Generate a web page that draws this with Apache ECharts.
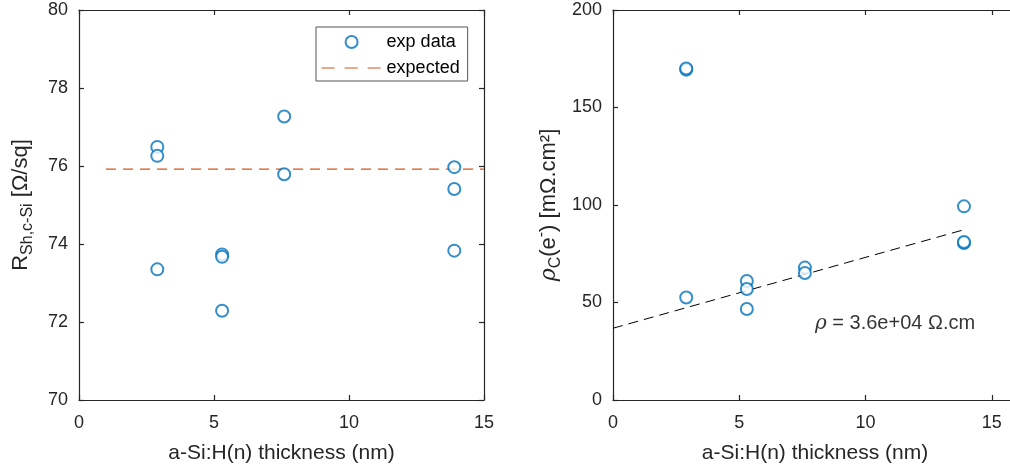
<!DOCTYPE html>
<html><head><meta charset="utf-8">
<script src="https://cdn.jsdelivr.net/npm/echarts@6/dist/echarts.min.js"></script>
<style>html,body{margin:0;padding:0;background:#fff}#c{width:1010px;height:470px}</style>
</head><body><div id="c"></div>
<script>
// ---- data ----
const thickness = [2.9, 2.9, 2.9, 5.3, 5.3, 5.3, 7.6, 7.6, 13.9, 13.9, 13.9];
const rSheet    = [76.49, 76.26, 73.35, 73.73, 73.67, 72.29, 77.27, 75.79, 75.97, 75.41, 73.83];
const rhoC      = [169.4, 170.0, 52.6, 61.0, 56.9, 46.7, 67.9, 65.1, 99.3, 80.5, 81.0];
const expectedX = [1, 15];
const expectedY = [75.92, 75.92];
const fitX = [0, 13.95];
const fitY = [36.8, 87.5];
const xTicksInterval = 5;
const leftYTicks = {min: 70, max: 80, interval: 2};
const rightYTicks = {min: 0, max: 200, interval: 50};
const annotationText = ' = 3.6e+04 Ω.cm';
const annotationAt = [[8.0, 39]];

const FONT = 'Liberation Sans, Arial, sans-serif';
const AX = '#262626';
const BLUE = '#0072BD';
const ORANGE = '#D95319';

function pairs(xs, ys) { return xs.map((x, i) => [x, ys[i]]); }

const axisCommon = (show, isX) => ({
  axisLine: {show: true, onZero: false, lineStyle: {color: AX, width: 1.2}},
  axisTick: {show: true, inside: true, length: 5, lineStyle: {color: AX, width: 1.2}},
  splitLine: {show: false},
  axisLabel: {show: show, color: AX, fontSize: 18, fontFamily: FONT, margin: isX ? 14 : 11,
    padding: isX ? 0 : [3, 0, 0, 0], showMaxLabel: true}
});

const chart = echarts.init(document.getElementById('c'), null, {renderer: 'canvas'});
const option = {
  animation: false,
  backgroundColor: '#fff',
  textStyle: {fontFamily: FONT},
  grid: [
    {left: 79, top: 10, width: 405, height: 390, outerBoundsMode: 'none', containLabel: false},
    {left: 613, top: 10, width: 404, height: 390, outerBoundsMode: 'none', containLabel: false}
  ],
  xAxis: [
    Object.assign(axisCommon(true, true), {type: 'value', gridIndex: 0, min: 0, max: 15, interval: xTicksInterval, position: 'bottom',
      name: 'a-Si:H(n) thickness (nm)', nameLocation: 'middle', nameGap: 43,
      nameTextStyle: {fontSize: 21, color: AX, fontFamily: FONT}}),
    Object.assign(axisCommon(false, true), {type: 'value', gridIndex: 0, min: 0, max: 15, interval: xTicksInterval, position: 'top'}),
    Object.assign(axisCommon(true, true), {type: 'value', gridIndex: 1, min: 0, max: 16, interval: xTicksInterval, position: 'bottom',
      name: 'a-Si:H(n) thickness (nm)', nameLocation: 'middle', nameGap: 43,
      nameTextStyle: {fontSize: 21, color: AX, fontFamily: FONT}}),
    Object.assign(axisCommon(false, true), {type: 'value', gridIndex: 1, min: 0, max: 16, interval: xTicksInterval, position: 'top'})
  ],
  yAxis: [
    Object.assign(axisCommon(true, false), {type: 'value', gridIndex: 0, min: leftYTicks.min, max: leftYTicks.max, interval: leftYTicks.interval, position: 'left',
      name: '{m|R}{s|Sh,c-Si}{m| [Ω/sq]}', nameLocation: 'middle', nameRotate: 90, nameGap: 43,
      nameTextStyle: {color: AX, fontFamily: FONT,
        rich: {m: {fontSize: 22, lineHeight: 30, color: AX, fontFamily: FONT},
               s: {fontSize: 16, lineHeight: 14, verticalAlign: 'bottom', color: AX, fontFamily: FONT}}}}),
    Object.assign(axisCommon(false, false), {type: 'value', gridIndex: 0, min: leftYTicks.min, max: leftYTicks.max, interval: leftYTicks.interval, position: 'right'}),
    Object.assign(axisCommon(true, false), {type: 'value', gridIndex: 1, min: rightYTicks.min, max: rightYTicks.max, interval: rightYTicks.interval, position: 'left',
      name: '{i|ρ}{s|C}{m|(e}{p|-}{m|) [mΩ.cm²]}', nameLocation: 'middle', nameRotate: 90, nameGap: 49,
      nameTextStyle: {color: AX, fontFamily: FONT,
        rich: {m: {fontSize: 22, lineHeight: 30, color: AX, fontFamily: FONT},
               i: {fontSize: 22, lineHeight: 30, fontStyle: 'italic', color: AX, fontFamily: 'DejaVu Serif, serif'},
               s: {fontSize: 16, lineHeight: 14, verticalAlign: 'bottom', color: AX, fontFamily: FONT},
               p: {fontSize: 16, lineHeight: 14, verticalAlign: 'top', color: AX, fontFamily: FONT}}}}),
    Object.assign(axisCommon(false, false), {type: 'value', gridIndex: 1, min: rightYTicks.min, max: rightYTicks.max, interval: rightYTicks.interval, position: 'right'})
  ],
  legend: {
    show: true, orient: 'vertical', left: 316, top: 27,
    data: [{name: 'exp data'},
           {name: 'expected', itemStyle: {color: 'rgba(0,0,0,0)', borderWidth: 0, opacity: 0},
            lineStyle: {color: ORANGE, width: 1.2, type: [13, 10]}}],
    itemWidth: 60, itemHeight: 12, itemGap: 8,
    padding: [6, 8, 4, 5],
    backgroundColor: '#fff', borderColor: '#555', borderWidth: 1, borderRadius: 0,
    textStyle: {fontSize: 18, color: '#000', fontFamily: FONT},
    selectedMode: false
  },
  series: [
    {name: 'exp data', type: 'scatter', xAxisIndex: 0, yAxisIndex: 0, data: pairs(thickness, rSheet),
      symbol: 'emptyCircle', symbolSize: 12, itemStyle: {color: BLUE, borderColor: BLUE, borderWidth: 1.4}, z: 3},
    {name: 'expected', type: 'line', xAxisIndex: 0, yAxisIndex: 0, data: pairs(expectedX, expectedY),
      symbol: 'none', lineStyle: {color: ORANGE, width: 1.2, type: [10, 7]}, itemStyle: {color: ORANGE}, z: 2},
    {name: 'exp data R', type: 'scatter', xAxisIndex: 2, yAxisIndex: 2, data: pairs(thickness, rhoC),
      symbol: 'emptyCircle', symbolSize: 12, itemStyle: {color: BLUE, borderColor: BLUE, borderWidth: 1.4}, z: 3},
    {name: 'fit', type: 'line', xAxisIndex: 2, yAxisIndex: 2, data: pairs(fitX, fitY),
      symbol: 'none', lineStyle: {color: '#000', width: 1, type: [10, 6]}, z: 2},
    {name: 'annotation', type: 'scatter', xAxisIndex: 2, yAxisIndex: 2, data: annotationAt,
      symbolSize: 0, silent: true,
      label: {show: true, position: 'right', distance: 0,
        formatter: '{i|ρ}{m|' + annotationText + '}',
        rich: {i: {fontSize: 20, fontStyle: 'italic', color: '#000', fontFamily: 'DejaVu Serif, serif'},
               m: {fontSize: 20, color: '#000', fontFamily: FONT}}}}
  ]
};
option.xAxis[2].axisLabel.showMaxLabel = false;
chart.setOption(option);
</script></body></html>
